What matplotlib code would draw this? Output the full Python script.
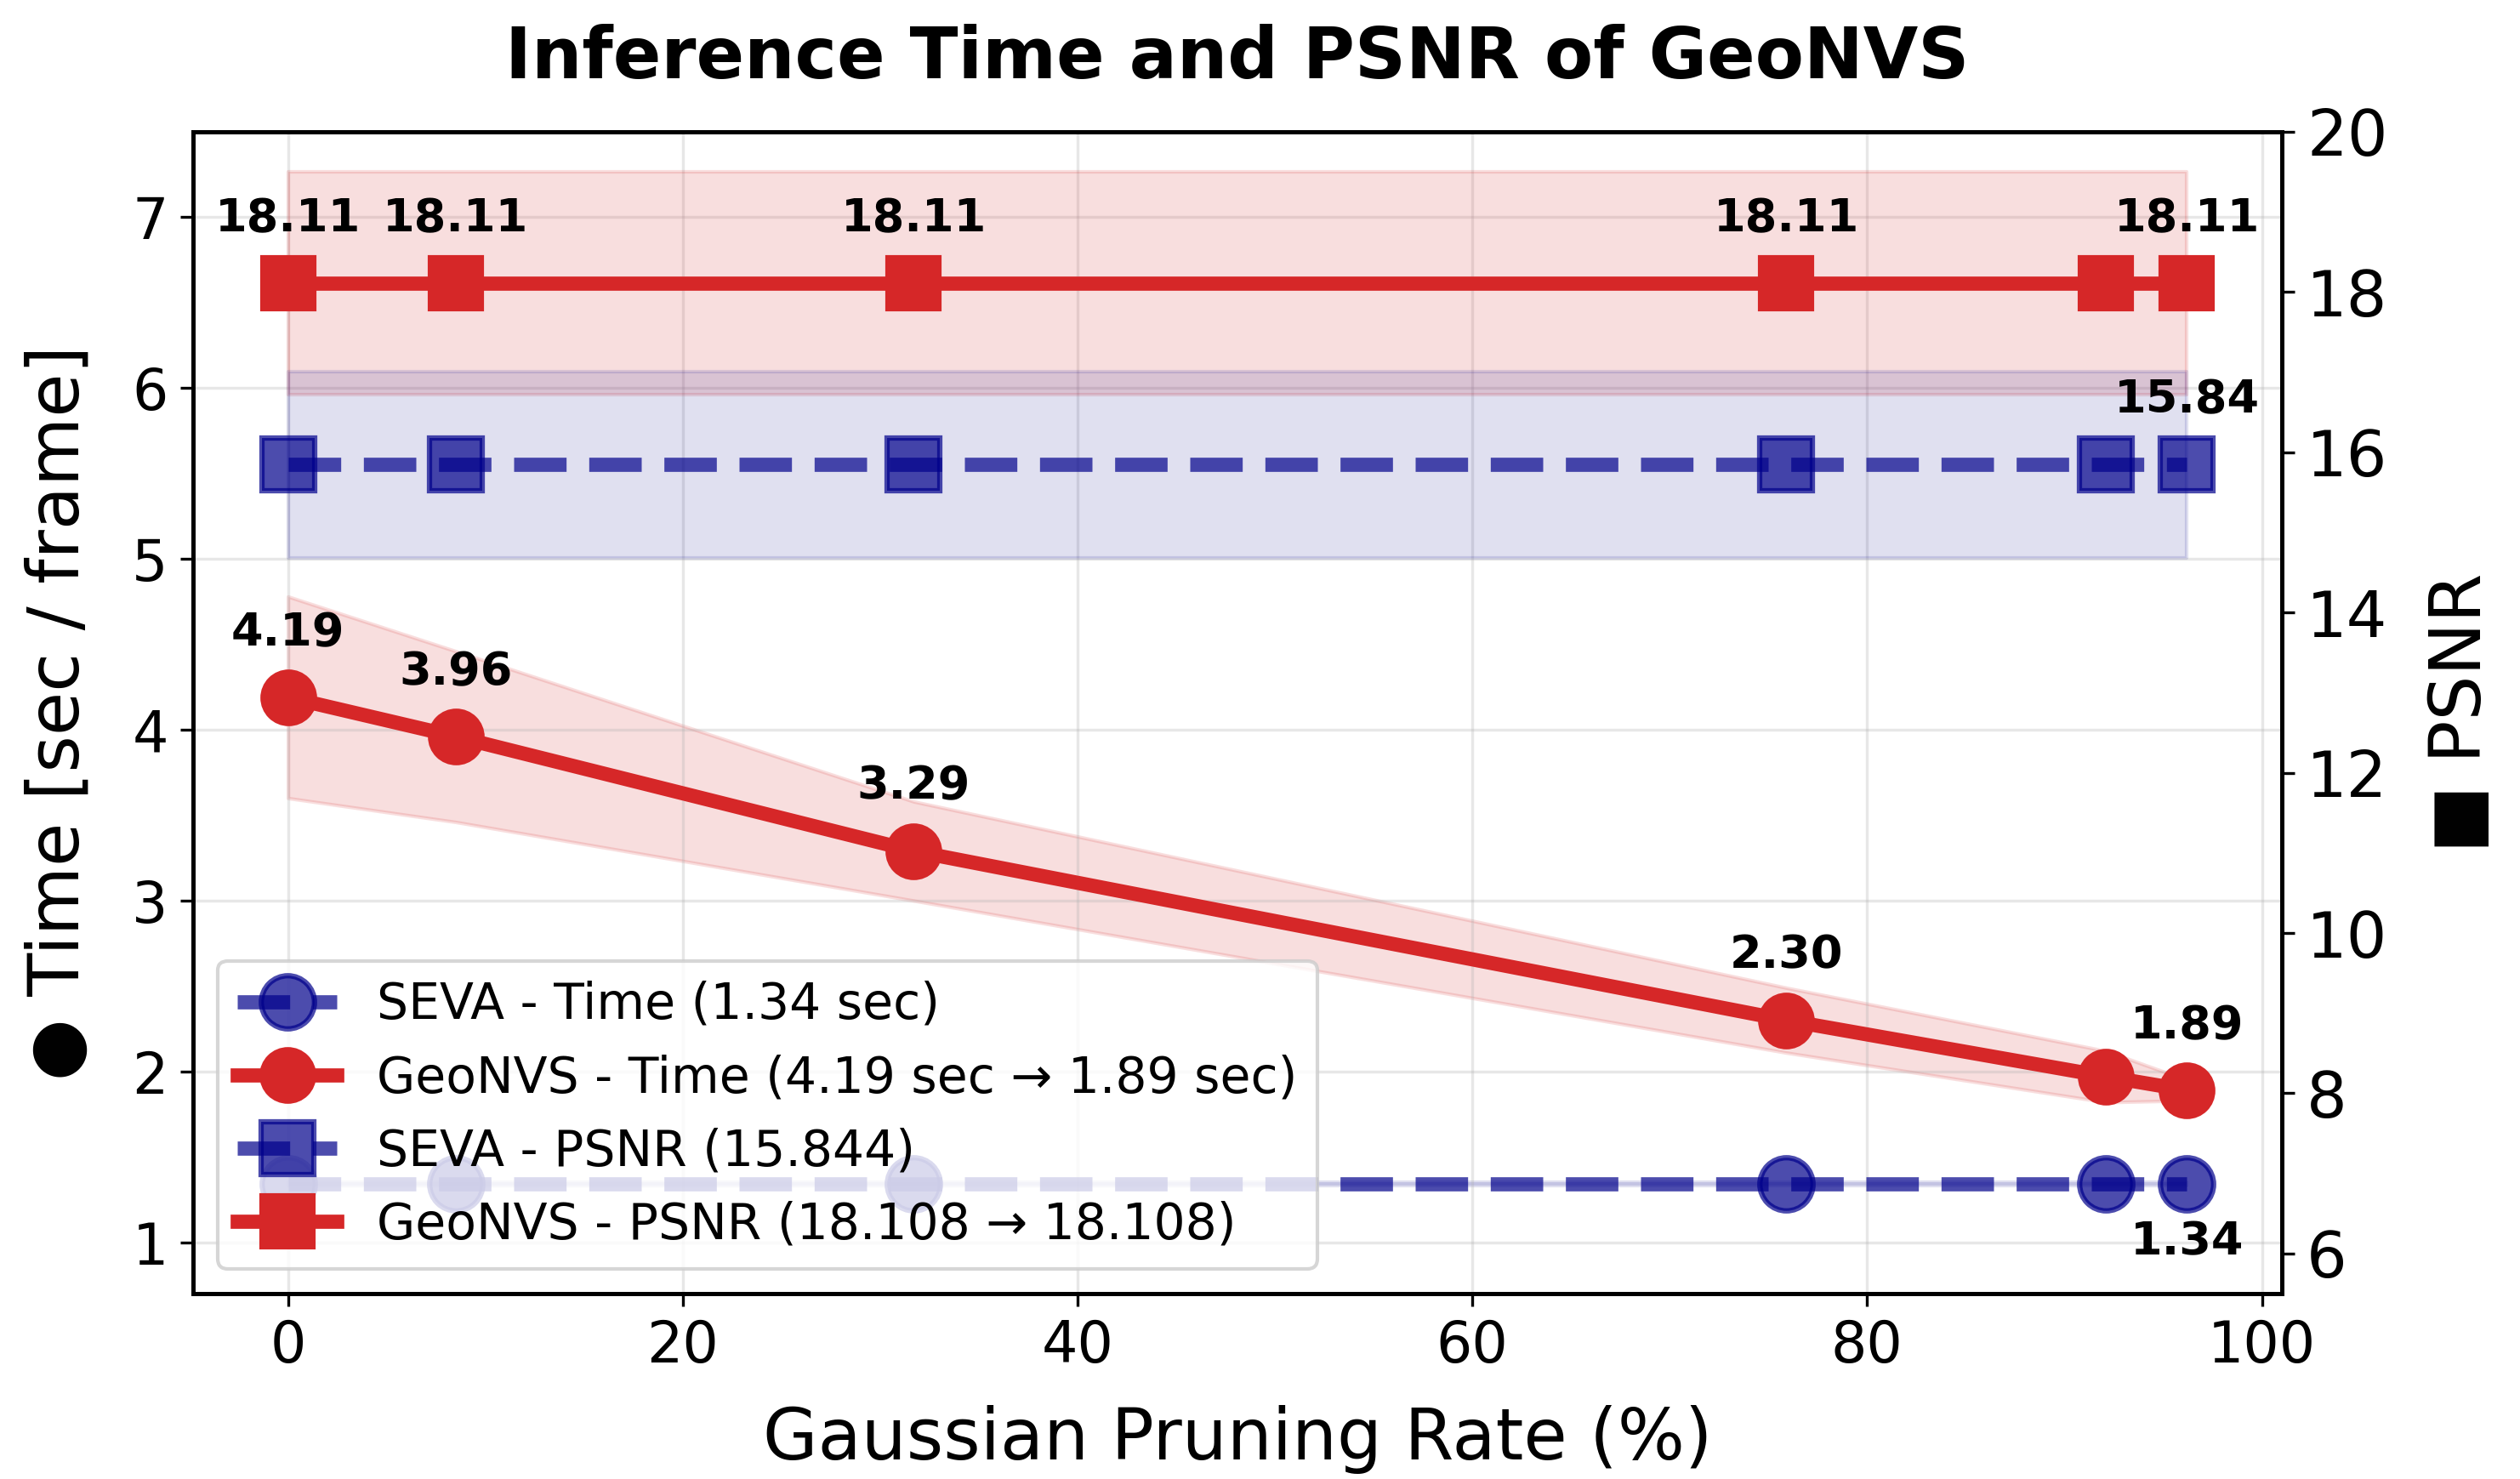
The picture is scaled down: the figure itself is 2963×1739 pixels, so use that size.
import matplotlib.pyplot as plt

# pruning rate (%) and measurements
prune_rate = [0, 8.5, 31.7, 75.9, 92.1, 96.2]
geo_time = [4.19, 3.96, 3.29, 2.30, 1.97, 1.89]
geo_time_std = [0.59, 0.50, 0.29, 0.19, 0.15, 0.06]
seva_time = [1.34, 1.34, 1.34, 1.34, 1.34, 1.34]
seva_time_std = [0.01, 0.01, 0.01, 0.01, 0.01, 0.01]
geo_psnr = [18.108, 18.108, 18.108, 18.108, 18.108, 18.108]
geo_psnr_std = [1.39, 1.39, 1.39, 1.39, 1.39, 1.39]
seva_psnr = [15.844, 15.844, 15.844, 15.844, 15.844, 15.844]
seva_psnr_std = [1.165, 1.165, 1.165, 1.165, 1.165, 1.165]

# which points get a value label
geo_label_idx = [0, 1, 2, 3, 5]

red = "#d62728"
blue = "darkblue"

plt.rcParams["font.size"] = 18

fig = plt.figure(figsize=(2963 / 300, 1739 / 300), dpi=300)
ax1 = fig.add_axes([0.0766, 0.1254, 0.8289, 0.7855])
ax2 = ax1.twinx()

# time (left axis)
ax1.fill_between(prune_rate,
                 [t - s for t, s in zip(seva_time, seva_time_std)],
                 [t + s for t, s in zip(seva_time, seva_time_std)],
                 color=blue, alpha=0.12)
ax1.fill_between(prune_rate,
                 [t - s for t, s in zip(geo_time, geo_time_std)],
                 [t + s for t, s in zip(geo_time, geo_time_std)],
                 color=red, alpha=0.15)
l1, = ax1.plot(prune_rate, seva_time, "--o", color=blue, alpha=0.7, lw=4,
               ms=15, mew=1.5, label="SEVA - Time (1.34 sec)")
l2, = ax1.plot(prune_rate, geo_time, "-o", color=red, lw=4, ms=15,
               label="GeoNVS - Time (4.19 sec \u2192 1.89 sec)")

# psnr (right axis)
ax2.fill_between(prune_rate,
                 [p - s for p, s in zip(geo_psnr, geo_psnr_std)],
                 [p + s for p, s in zip(geo_psnr, geo_psnr_std)],
                 color=red, alpha=0.15)
ax2.fill_between(prune_rate,
                 [p - s for p, s in zip(seva_psnr, seva_psnr_std)],
                 [p + s for p, s in zip(seva_psnr, seva_psnr_std)],
                 color=blue, alpha=0.12)
l3, = ax2.plot(prune_rate, seva_psnr, "--s", color=blue, alpha=0.7, lw=4,
               ms=15, mew=1.5, label="SEVA - PSNR (15.844)")
l4, = ax2.plot(prune_rate, geo_psnr, "-s", color=red, lw=4, ms=15,
               label="GeoNVS - PSNR (18.108 \u2192 18.108)")

# value labels
for i in geo_label_idx:
    ax1.annotate(f"{geo_time[i]:.2f}", (prune_rate[i], geo_time[i]),
                 xytext=(0, 12), textcoords="offset points", ha="center",
                 va="bottom", fontsize=13, fontweight="bold")
    ax2.annotate(f"{geo_psnr[i]:.2f}", (prune_rate[i], geo_psnr[i]),
                 xytext=(0, 12), textcoords="offset points", ha="center",
                 va="bottom", fontsize=13, fontweight="bold")
ax2.annotate(f"{seva_psnr[-1]:.2f}", (prune_rate[-1], seva_psnr[-1]),
             xytext=(0, 12), textcoords="offset points", ha="center",
             va="bottom", fontsize=13, fontweight="bold")
ax1.annotate(f"{seva_time[-1]:.2f}", (prune_rate[-1], seva_time[-1]),
             xytext=(0, -10), textcoords="offset points", ha="center",
             va="top", fontsize=13, fontweight="bold")

ax1.set_ylim(0.7, 7.5)
ax2.set_ylim(5.5, 20)
ax1.set_xlabel("Gaussian Pruning Rate (%)", fontsize=20, labelpad=8.5)
ax1.set_ylabel("\u25cf Time [sec / frame]", fontsize=20, labelpad=11)
ax2.set_ylabel("\u25a0 PSNR", fontsize=20, labelpad=11)
ax1.tick_params(labelsize=16)
ax2.tick_params(labelsize=18)
ax1.grid(True, alpha=0.3)
for sp in list(ax1.spines.values()) + list(ax2.spines.values()):
    sp.set_linewidth(1.2)

ax1.set_title("Inference Time and PSNR of GeoNVS", fontsize=20,
              fontweight="bold", pad=15)

ax2.legend([l1, l2, l3, l4], [h.get_label() for h in [l1, l2, l3, l4]],
           loc="lower left", fontsize=14)

fig.savefig("out.png", dpi=300)
